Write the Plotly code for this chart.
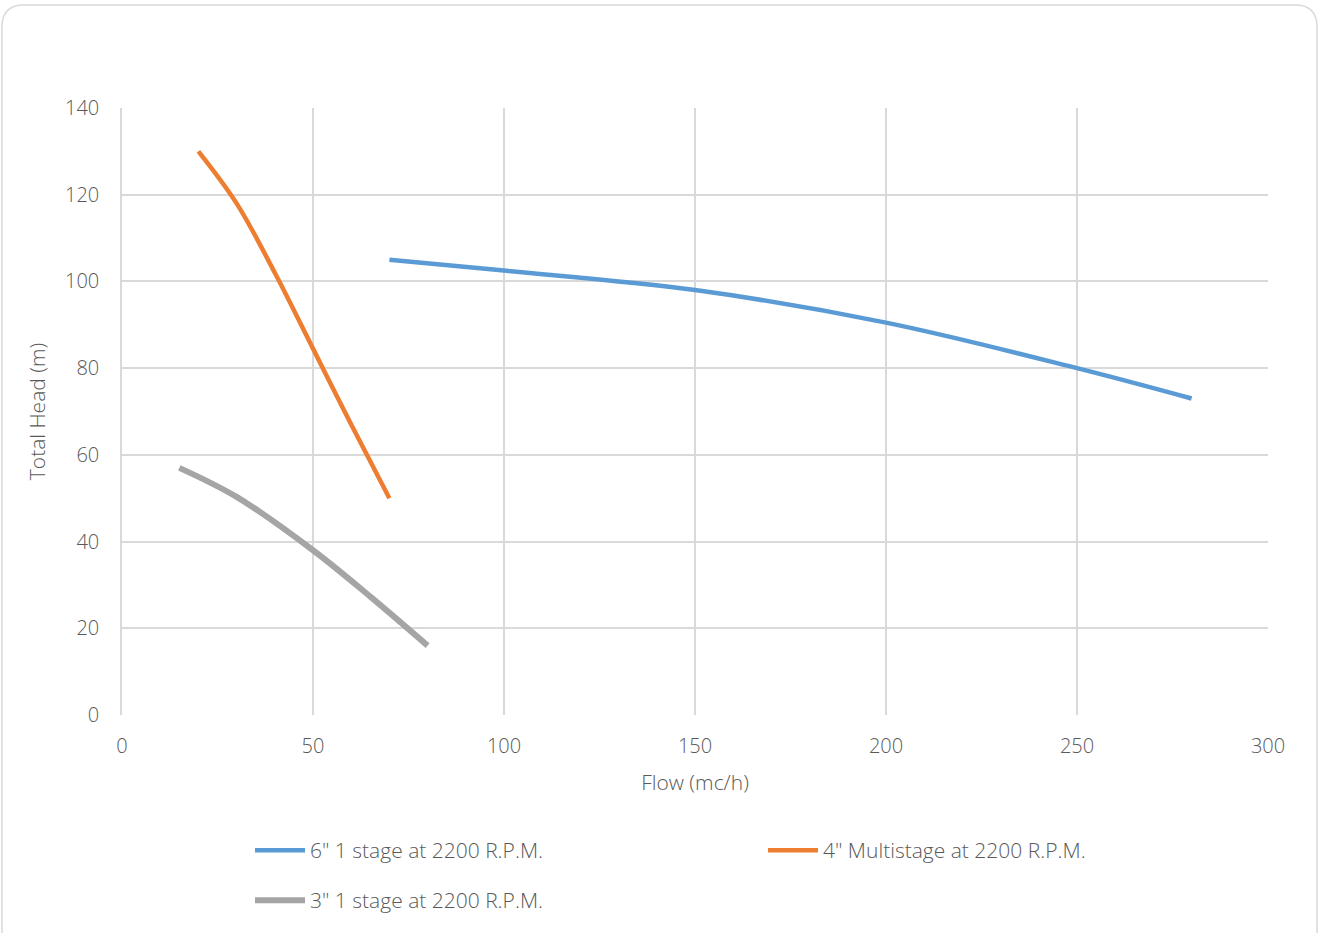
import plotly.graph_objects as go

# Data
flow_6in = [70, 100, 150, 200, 250, 280]
head_6in = [105, 102.5, 98, 90.5, 80, 73]

flow_4in = [20, 30, 40, 50, 60, 70]
head_4in = [130, 118, 102, 84.5, 67, 50]

flow_3in = [15, 30, 50, 65, 80]
head_3in = [57, 50.3, 38, 27.3, 16]

names = ['6" 1 stage at 2200 R.P.M.', '4" Multistage at 2200 R.P.M.', '3" 1 stage at 2200 R.P.M.']
colors = ["#5B9BD5", "#ED7D31", "#A5A5A5"]

FONT = "Open Sans"
TXT = "#595959"
WT = 300

fig = go.Figure()
fig.add_trace(go.Scatter(x=flow_6in, y=head_6in, mode="lines", name=names[0],
                         line=dict(color=colors[0], width=4.5, shape="spline"), legend="legend"))
fig.add_trace(go.Scatter(x=flow_4in, y=head_4in, mode="lines", name=names[1],
                         line=dict(color=colors[1], width=4.5, shape="spline"), legend="legend"))
fig.add_trace(go.Scatter(x=flow_3in, y=head_3in, mode="lines", name=names[2],
                         line=dict(color=colors[2], width=6, shape="spline"), legend="legend2"))

W, H = 1319, 933
L, R, T, B = 122, 51, 108, 218
pw, ph = W - L - R, H - T - B

def px_x(p):
    return (p - L) / pw

def px_y(p):
    return (H - B - p) / ph

# rounded container
x0, x1 = px_x(2), px_x(1317)
y0, y1 = px_y(945), px_y(5)
rx, ry = 22 / pw, 22 / ph
path = (f"M {x0+rx},{y1} L {x1-rx},{y1} Q {x1},{y1} {x1},{y1-ry} "
        f"L {x1},{y0} L {x0},{y0} L {x0},{y1-ry} Q {x0},{y1} {x0+rx},{y1} Z")

fig.update_layout(
    width=W, height=H,
    margin=dict(l=L, r=R, t=T, b=B),
    paper_bgcolor="white", plot_bgcolor="white",
    font=dict(family=FONT, color=TXT, size=20, weight=WT),
    shapes=[dict(type="path", xref="paper", yref="paper", path=path,
                 line=dict(color="#D9D9D9", width=1.5), layer="below")],
    xaxis=dict(range=[0, 300], tickvals=[0, 50, 100, 150, 200, 250, 300],
               showgrid=True, gridcolor="#D9D9D9", gridwidth=1.5,
               zeroline=False, showline=False, ticks="", ticklabelstandoff=17,
               tickfont=dict(size=20, color=TXT, weight=WT),
               title=dict(text="Flow (mc/h)", font=dict(size=21, color=TXT, weight=WT), standoff=17)),
    yaxis=dict(range=[0, 140], tickvals=[0, 20, 40, 60, 80, 100, 120, 140],
               showgrid=True, gridcolor="#D9D9D9", gridwidth=1.5,
               zeroline=False, showline=True, linecolor="#D9D9D9", linewidth=1.5,
               ticks="", ticklabelstandoff=17,
               tickfont=dict(size=20, color=TXT, weight=WT),
               title=dict(text="Total Head (m)", font=dict(size=21, color=TXT, weight=WT), standoff=14)),
    legend=dict(orientation="h", x=px_x(250), y=px_y(830), xanchor="left", yanchor="top",
                entrywidth=448, entrywidthmode="pixels", bgcolor="rgba(0,0,0,0)",
                font=dict(size=21, color=TXT, weight=WT), itemwidth=50),
    legend2=dict(orientation="h", x=px_x(250), y=px_y(880), xanchor="left", yanchor="top",
                 bgcolor="rgba(0,0,0,0)", font=dict(size=21, color=TXT, weight=WT), itemwidth=50),
)

fig.write_html("out.html", config={"displayModeBar": False},
               post_script="document.body.style.margin='0';")
